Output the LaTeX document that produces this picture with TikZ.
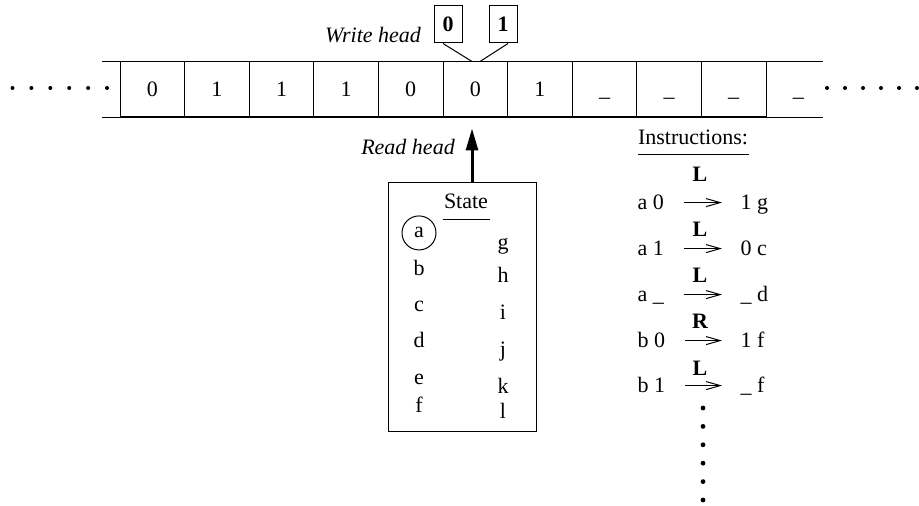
\documentclass[tikz,border=0pt]{standalone}
\usepackage{fontspec}
\setmainfont{Liberation Serif}
\usepackage{tikz}
\usetikzlibrary{positioning, arrows.meta}

\begin{document}
\begin{tikzpicture}[x=0.5pt,y=-0.5pt,font=\fontsize{11}{13}\selectfont,line width=0.5pt]
	\tikzstyle{cell}=[draw,minimum width=32.3pt,minimum height=27.5pt,inner sep=0pt,text height=7.4pt,text depth=0pt]
	\tikzstyle{symbox}=[draw,minimum width=14pt,minimum height=18.5pt,inner sep=0pt,font=\fontsize{11}{13}\selectfont\bfseries]
	\tikzstyle{letter}=[anchor=base,inner sep=0pt]
	\tikzstyle{rulepart}=[anchor=base west,inner sep=0pt,text height=7.4pt,text depth=0pt]
	\tikzstyle{move}=[anchor=base,inner sep=0pt,font=\fontsize{11}{13}\selectfont\bfseries]
	\tikzstyle{rule}=[-{Straight Barb[length=7pt,width=4pt]},shorten <=9.8pt,shorten >=9pt]
	\useasboundingbox (0,0) rectangle (919,506);
	% tape
	\node[cell](c1) at (152.3,89.5) {0};
	\node[cell](c2) at (216.9,89.5) {1};
	\node[cell](c3) at (281.5,89.5) {1};
	\node[cell](c4) at (346.1,89.5) {1};
	\node[cell](c5) at (410.7,89.5) {0};
	\node[cell](c6) at (475.3,89.5) {0};
	\node[cell](c7) at (539.9,89.5) {1};
	\node[cell](c8) at (604.5,89.5) {\_};
	\node[cell](c9) at (669.1,89.5) {\_};
	\node[cell](c10) at (733.7,89.5) {\_};
	\node[cell,draw=none](c11) at (798.3,89.5) {\_};
	\draw ([xshift=-9pt]c1.north west) -- ([xshift=-4.3pt]c11.north east);
	\draw ([xshift=-9pt]c1.south west) -- ([xshift=-4.3pt]c11.south east);
	\foreach \i in {0,...,5} {
		\fill (12.5+18.9*\i,88) circle (1pt);
		\fill (827+18*\i,88) circle (1pt);
	}
	% write head
	\node[symbox](b0) at (448,24.5) {0};
	\node[symbox](b1) at (503,24.5) {1};
	\node[anchor=base,inner sep=0pt](wh) at (373,43) {\itshape Write head};
	\coordinate (w0) at ([xshift=-1.65pt]c6.north);
	\coordinate (w1) at ([xshift=2.35pt]c6.north);
	\draw ([xshift=-2.5pt]b0.south) -- (w0);
	\draw ([xshift=2.5pt]b1.south) -- (w1);
	% read head and state
	\node[draw,minimum width=74pt,minimum height=124.5pt,inner sep=0pt](state) at (462,307.5) {};
	\node[anchor=base,inner sep=0pt](rh) at (408,155) {\itshape Read head};
	\draw[line width=1.5pt,-{Triangle[length=11pt,width=6pt]},shorten >=5.5pt] ([xshift=5pt]state.north) -- ([xshift=-1.65pt]c6.south);
	\node[anchor=base,inner xsep=0.5pt,inner ysep=5pt](st) at (466,209) {State};
	\draw (st.south west) -- (st.south east);
	\node[letter,draw,circle,minimum size=17pt](a) at (419,238) {a};
	\node[letter](b) at (419,276) {b};
	\node[letter](c) at (419,312) {c};
	\node[letter](d) at (419,348) {d};
	\node[letter](e) at (419,385) {e};
	\node[letter](f) at (419,413) {f};
	\node[letter](g) at (503,250) {g};
	\node[letter](h) at (503,283) {h};
	\node[letter](i) at (503,320) {i};
	\node[letter](j) at (503,357) {j};
	\node[letter](k) at (503,394) {k};
	\node[letter](l) at (503,419) {l};
	% instructions
	\node[anchor=base,inner xsep=0pt,inner ysep=4.5pt](ins) at (693,145) {Instructions:};
	\draw (ins.south west) -- (ins.south east);
	\node[rulepart](l1) at (637,210) {a 0};
	\node[rulepart](r1) at (740,210) {1 g};
	\node[move](m1) at (700,182) {L};
	\node[rulepart](l2) at (637,256) {a 1};
	\node[rulepart](r2) at (740,256) {0 c};
	\node[move](m2) at (700,237) {L};
	\node[rulepart](l3) at (637,302) {a \_};
	\node[rulepart](r3) at (740,302) {\_ d};
	\node[move](m3) at (700,283) {L};
	\node[rulepart](l4) at (637,348) {b 0};
	\node[rulepart](r4) at (740,348) {1 f};
	\node[move](m4) at (700,329) {R};
	\node[rulepart](l5) at (637,393) {b 1};
	\node[rulepart](r5) at (740,393) {\_ f};
	\node[move](m5) at (700,376) {L};
	\draw[rule](l1) -- (r1);
	\draw[rule](l2) -- (r2);
	\draw[rule](l3) -- (r3);
	\draw[rule](l4) -- (r4);
	\draw[rule](l5) -- (r5);
	\foreach \i in {0,...,5}
		\fill (703,408+18.4*\i) circle (1.2pt);
\end{tikzpicture}
\end{document}
